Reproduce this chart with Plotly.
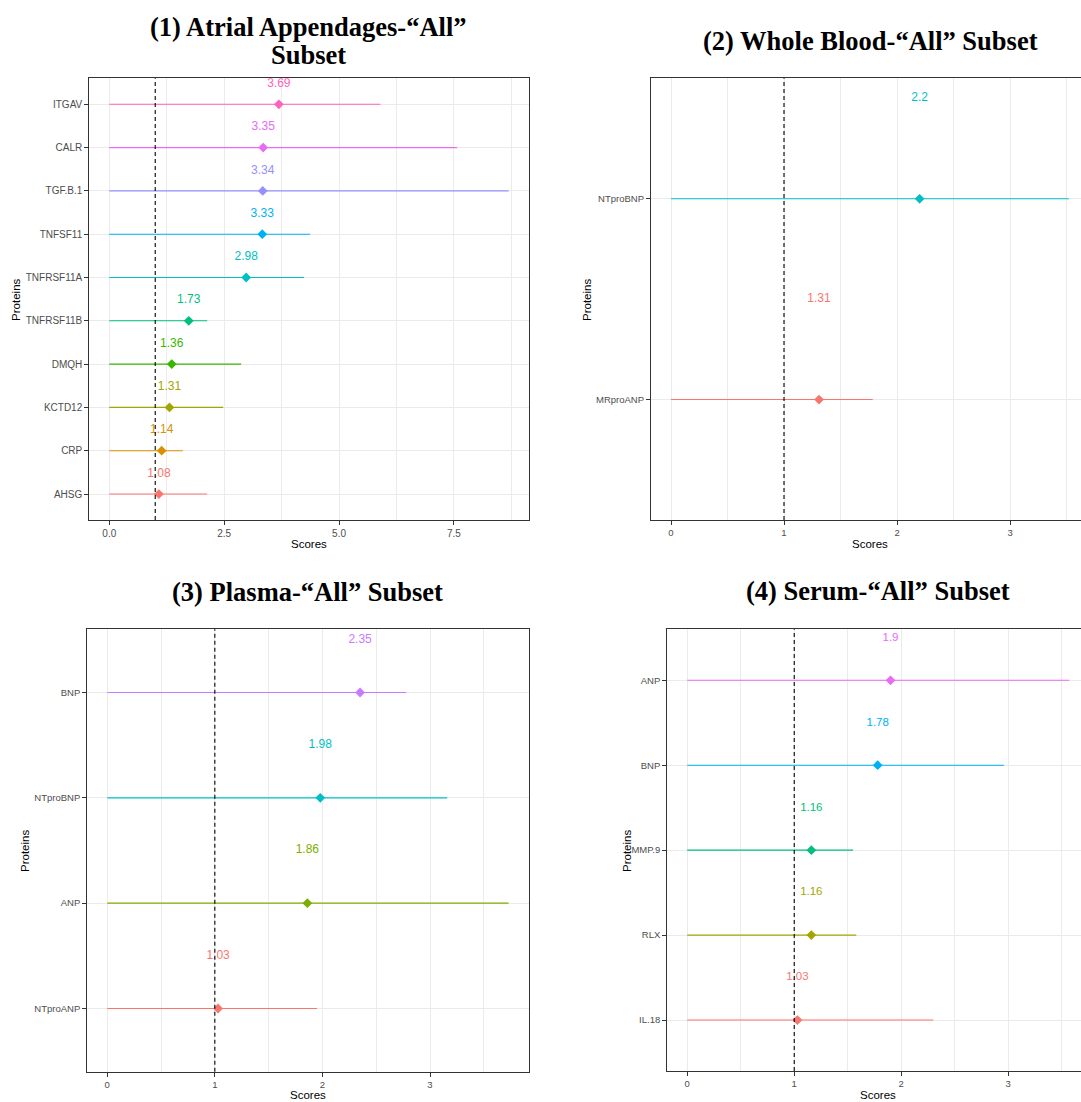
import plotly.graph_objects as go

W, H = 1081, 1102

# ---------------- data ----------------
REF_LINE = 1

p1_proteins = ["AHSG", "CRP", "KCTD12", "DMQH", "TNFRSF11B", "TNFRSF11A", "TNFSF11", "TGF.B.1", "CALR", "ITGAV"]
p1_scores = [1.08, 1.14, 1.31, 1.36, 1.73, 2.98, 3.33, 3.34, 3.35, 3.69]
p1_lower = [0, 0, 0, 0, 0, 0, 0, 0, 0, 0]
p1_upper = [2.13, 1.60, 2.48, 2.87, 2.13, 4.24, 4.37, 8.69, 7.57, 5.90]

p2_proteins = ["MRproANP", "NTproBNP"]
p2_scores = [1.31, 2.2]
p2_lower = [0, 0]
p2_upper = [1.785, 3.52]

p3_proteins = ["NTproANP", "ANP", "NTproBNP", "BNP"]
p3_scores = [1.03, 1.86, 1.98, 2.35]
p3_lower = [0, 0, 0, 0]
p3_upper = [1.95, 3.73, 3.16, 2.78]

p4_proteins = ["IL.18", "RLX", "MMP.9", "BNP", "ANP"]
p4_scores = [1.03, 1.16, 1.16, 1.78, 1.9]
p4_lower = [0, 0, 0, 0, 0]
p4_upper = [2.30, 1.58, 1.55, 2.96, 3.57]

titles = ["(1) Atrial Appendages-\u201cAll\u201d", "(2) Whole Blood-\u201cAll\u201d Subset",
          "(3) Plasma-\u201cAll\u201d Subset", "(4) Serum-\u201cAll\u201d Subset"]

# ---------------- styles ----------------
pal10 = ["#F8766D", "#D89000", "#A3A500", "#39B600", "#00BF7D", "#00BFC4", "#00B0F6", "#9590FF", "#E76BF3", "#FF62BC"]
pal2 = ["#F8766D", "#00BFC4"]
pal4 = ["#F8766D", "#7CAE00", "#00BFC4", "#C77CFF"]
pal5 = ["#F8766D", "#A3A500", "#00BF7D", "#00B0F6", "#E76BF3"]

SANS = "Liberation Sans, Arial, sans-serif"
SERIF = "Liberation Serif, Times New Roman, serif"
GRID = "#EBEBEB"
BORDER = "#333333"
TICKC = "#4D4D4D"


def px(x):
    return x / W


def py(y):
    return 1 - y / H


panels = [
    dict(prot=p1_proteins, sc=p1_scores, lo=p1_lower, up=p1_upper, pal=pal10,
         xdom=[89.3, 528.6], ydom=[78.3, 520.0], xr=[-0.4345, 9.1245],
         dtick=2.5, minor=1.25, tickfmt=".1f", tfs=10, lfs=12, nudge=0.47, full=True),
    dict(prot=p2_proteins, sc=p2_scores, lo=p2_lower, up=p2_upper, pal=pal2,
         xdom=[651.0, 1081.0], ydom=[78.3, 520.0], xr=[-0.177, 3.628],
         dtick=1, minor=0.5, tickfmt="d", tfs=9.5, lfs=12, nudge=0.5, full=False),
    dict(prot=p3_proteins, sc=p3_scores, lo=p3_lower, up=p3_upper, pal=pal4,
         xdom=[87.2, 528.6], ydom=[629.3, 1071.7], xr=[-0.1865, 3.9165],
         dtick=1, minor=0.5, tickfmt="d", tfs=9.5, lfs=12, nudge=0.5, full=True),
    dict(prot=p4_proteins, sc=p4_scores, lo=p4_lower, up=p4_upper, pal=pal5,
         xdom=[667.2, 1081.0], ydom=[629.3, 1071.0], xr=[-0.187, 3.68],
         dtick=1, minor=0.5, tickfmt="d", tfs=9.5, lfs=11.5, nudge=0.5, full=False),
]

fig = go.Figure()
layout = dict(width=W, height=H, margin=dict(l=0, r=0, t=0, b=0),
              paper_bgcolor="white", plot_bgcolor="white", showlegend=False,
              hovermode=False)
shapes = []
annotations = []

for k, p in enumerate(panels):
    idx = k + 1
    xa = "x" if idx == 1 else f"x{idx}"
    ya = "y" if idx == 1 else f"y{idx}"
    n = len(p["prot"])
    ys = list(range(n))
    for i in ys:
        c = p["pal"][i]
        fig.add_trace(go.Scatter(x=[p["lo"][i], p["up"][i]], y=[i, i], mode="lines",
                                 line=dict(color=c, width=1.1), xaxis=xa, yaxis=ya))
        fig.add_trace(go.Scatter(x=[p["sc"][i]], y=[i], mode="markers",
                                 marker=dict(color=c, size=7.5, symbol="diamond"),
                                 xaxis=xa, yaxis=ya))
        fig.add_trace(go.Scatter(x=[p["sc"][i]], y=[i + p["nudge"]], mode="text",
                                 text=[f"{p['sc'][i]:g}"],
                                 textfont=dict(color=c, size=p["lfs"], family=SANS),
                                 textposition="middle center", xaxis=xa, yaxis=ya))
    # reference dashed line
    shapes.append(dict(type="line", xref=xa, yref=f"{ya} domain", x0=REF_LINE, x1=REF_LINE,
                       y0=0, y1=1, line=dict(color="black", width=1.1, dash="4px,3px"), layer="above"))

    tickvals = []
    v = 0.0
    while v <= p["xr"][1]:
        tickvals.append(v)
        v += p["dtick"]
    ticktext = [f"{t:.1f}" if p["tickfmt"] == ".1f" else f"{int(round(t))}" for t in tickvals]

    xkey = "xaxis" if idx == 1 else f"xaxis{idx}"
    ykey = "yaxis" if idx == 1 else f"yaxis{idx}"
    layout[xkey] = dict(
        domain=[px(p["xdom"][0]), px(p["xdom"][1])], anchor=ya, range=p["xr"],
        tickmode="array", tickvals=tickvals, ticktext=ticktext,
        showgrid=True, gridcolor=GRID, gridwidth=1.1, zeroline=False,
        minor=dict(tickmode="linear", tick0=0, dtick=p["minor"], showgrid=True,
                   gridcolor=GRID, gridwidth=0.6, ticks=""),
        showline=True, linecolor=BORDER, linewidth=1.1, mirror=True,
        ticks="outside", ticklen=4, tickcolor=BORDER, tickwidth=1,
        tickfont=dict(family=SANS, size=p["tfs"], color=TICKC),
        fixedrange=True,
    )
    layout[ykey] = dict(
        domain=[py(p["ydom"][1]), py(p["ydom"][0])], anchor=xa, range=[-0.6, n - 0.4],
        tickmode="array", tickvals=ys, ticktext=p["prot"],
        showgrid=True, gridcolor=GRID, gridwidth=1.1, zeroline=False,
        showline=True, linecolor=BORDER, linewidth=1.1, mirror=p["full"],
        ticks="outside", ticklen=4, tickcolor=BORDER, tickwidth=1,
        tickfont=dict(family=SANS, size=p["tfs"], color=TICKC),
        fixedrange=True,
    )

# ---------------- titles ----------------
tfont = dict(family=SERIF, size=26.5, color="black")
title_pos = [(308.6, 27.0), (870.5, 41.0), (307.0, 592.0), (878.0, 591.0)]
for k, (tx, ty) in enumerate(title_pos):
    annotations.append(dict(text=f"<b>{titles[k]}</b>", x=px(tx), y=py(ty), xref="paper", yref="paper",
                            xanchor="center", yanchor="middle", showarrow=False, font=tfont))
annotations.append(dict(text="<b>Subset</b>", x=px(308.6), y=py(54.5), xref="paper", yref="paper",
                        xanchor="center", yanchor="middle", showarrow=False, font=tfont))

# ---------------- axis titles ----------------
afont = dict(family=SANS, size=11.5, color="black")
for (sx, sy) in [(308.6, 543.7), (869.5, 544.0), (307.5, 1095.0), (877.6, 1094.5)]:
    annotations.append(dict(text="Scores", x=px(sx), y=py(sy), xref="paper", yref="paper",
                            xanchor="center", yanchor="middle", showarrow=False, font=afont))
for (qx, qy) in [(16.2, 299.7), (587.0, 300.0), (25.0, 851.0), (627.0, 851.0)]:
    annotations.append(dict(text="Proteins", x=px(qx), y=py(qy), xref="paper", yref="paper",
                            xanchor="center", yanchor="middle", showarrow=False, font=afont,
                            textangle=-90))

layout["shapes"] = shapes
layout["annotations"] = annotations
fig.update_layout(**layout)
fig.write_html("out.html", config={"displayModeBar": False})

# remove the browser's default page margin so the figure sits at the window origin
with open("out.html", "r", encoding="utf-8") as f:
    html = f.read()
html = html.replace("<body>", '<body style="margin:0;padding:0;overflow:hidden">', 1)
html = html.replace("<head>", '<head><style>html,body{margin:0;padding:0;overflow:hidden}</style>', 1)
with open("out.html", "w", encoding="utf-8") as f:
    f.write(html)
